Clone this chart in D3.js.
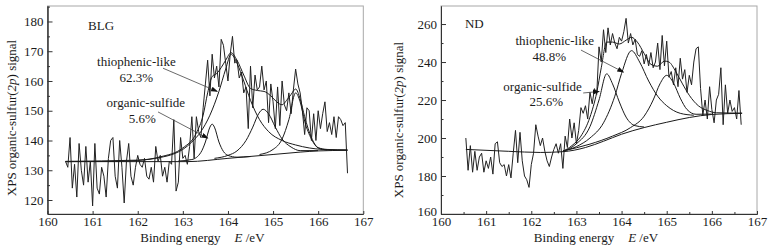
<!DOCTYPE html>
<html>
<head>
<meta charset="utf-8">
<script src="https://cdn.jsdelivr.net/npm/d3@7"></script>
<style>
  body { margin: 0; background: #fff; }
  text { font-family: "Liberation Serif", "Times New Roman", serif; fill: #1a1a1a; }
</style>
</head>
<body>
<svg id="chart" width="776" height="249"></svg>
<script>
// raw scans are on a regular energy grid (eV)
const blgStart = 160.40, ndStart = 160.55, scanStep = 0.05;

const blgRaw = [
  133,131,141,124,132,121,139,130,125,138,126,133,
  118,139,124,122,131,128,121,134,140,141,128,124,140,131,119,133,139,128,125,131,
  135,132,131,134,128,127,131,126,138,133,135,128,131,126,133,132,147,123,126,141,
  134,135,132,138,148,134,148,143,141,151,159,167,155,169,161,165,158,174,172,166,
  160,169,175,166,167,161,163,156,158,144,165,151,162,157,158,165,157,160,146,159,
  153,144,158,145,160,152,150,156,149,157,164,159,156,150,142,151,150,140,149,140,
  150,144,149,153,143,146,142,148,141,148,147,145,146,129
];

// fitted curves, [energy, signal]
const blgBaseline = [[160.4,132.9],[161.5,132.9],[163.1,132.9],[164.0,134.0],[165.0,135.3],[165.6,136.1],[166.0,136.5],[166.65,136.7]];
const blgThiophenic = [[160.4,132.9],[161.5,133.0],[162.0,133.3],[162.5,134.3],[162.8,135.5],[163.0,137.0],[163.2,139.5],[163.4,143.0],[163.6,148.5],[163.8,156.5],[163.95,164.0],[164.07,169.0],[164.2,166.0],[164.35,160.0],[164.5,153.5],[164.7,147.0],[164.9,143.0],[165.2,140.0],[165.5,138.5],[165.8,137.5],[166.1,137.0],[166.65,136.8]];
const blgSulfide = [[162.9,133.1],[163.2,133.6],[163.4,136.0],[163.5,139.5],[163.6,144.5],[163.65,145.5],[163.7,144.5],[163.8,139.5],[163.9,136.3],[164.0,135.0],[164.2,134.4],[164.5,134.6]];
const blgPeak3 = [[163.7,134.0],[164.0,135.0],[164.2,136.5],[164.4,140.0],[164.55,144.5],[164.68,149.0],[164.78,150.5],[164.9,149.0],[165.05,144.5],[165.2,140.5],[165.4,137.8],[165.6,136.6],[166.0,136.6]];
const blgPeak4 = [[164.7,135.3],[165.0,137.0],[165.2,140.5],[165.35,147.0],[165.5,156.0],[165.6,153.0],[165.7,146.5],[165.85,140.5],[166.0,137.5],[166.2,136.8]];
const blgEnvelope = [[160.4,133.0],[162.0,133.4],[162.5,134.5],[163.0,137.5],[163.3,142.5],[163.45,148.5],[163.55,156.0],[163.65,161.5],[163.75,162.5],[163.85,164.5],[163.95,167.0],[164.07,169.5],[164.2,167.0],[164.35,162.0],[164.5,157.5],[164.65,156.8],[164.8,156.5],[164.95,155.0],[165.08,153.0],[165.2,152.0],[165.3,153.5],[165.4,155.5],[165.5,157.3],[165.6,154.0],[165.7,148.0],[165.85,141.0],[166.0,137.6],[166.2,137.0],[166.65,136.8]];

const ndRaw = [
  200,183,196,182,193,183,190,192,182,
  188,184,190,181,197,198,187,185,186,180,186,179,192,204,187,203,188,180,178,174,
  186,192,207,201,196,200,193,188,185,190,194,197,192,197,184,201,195,210,200,208,
  197,204,216,213,217,210,224,218,226,223,248,240,257,245,258,249,255,250,247,253,
  251,256,263,250,255,249,252,244,243,246,239,244,238,245,237,240,250,236,254,238,
  251,232,235,228,237,227,242,231,236,224,233,228,240,247,248,226,212,220,210,227,
  215,208,220,223,237,207,228,213,220,214,216,210,225,207
];

const ndBaseline = [[160.55,194.0],[161.5,193.0],[162.2,192.4],[162.7,192.8],[163.2,195.0],[163.6,198.3],[164.0,202.0],[164.5,205.5],[165.0,208.3],[165.5,210.8],[166.0,212.4],[166.67,213.0]];
const ndSulfide = [[162.7,193.0],[163.0,197.0],[163.3,206.0],[163.5,220.0],[163.67,233.8],[163.8,228.5],[163.95,219.0],[164.1,211.0],[164.3,206.5],[164.5,205.8]];
const ndThiophenic = [[162.7,193.0],[163.0,195.5],[163.3,200.0],[163.6,208.0],[163.85,222.0],[164.0,234.0],[164.22,246.0],[164.4,240.0],[164.6,230.0],[164.8,222.0],[165.0,217.0],[165.3,213.0],[165.6,212.0]];
const ndPeak3 = [[162.7,193.2],[163.3,196.8],[163.8,201.0],[164.2,205.5],[164.5,211.5],[164.7,220.0],[164.85,228.5],[165.0,233.0],[165.15,229.0],[165.3,221.0],[165.45,215.0],[165.65,212.5],[166.0,212.6]];
const ndEnvelope = [[162.7,193.0],[162.9,196.0],[163.1,201.0],[163.3,211.0],[163.45,224.0],[163.55,237.0],[163.67,250.5],[163.8,250.5],[163.95,249.5],[164.1,251.5],[164.22,253.0],[164.35,250.5],[164.5,244.5],[164.65,238.8],[164.8,237.8],[164.95,240.5],[165.05,240.0],[165.2,235.0],[165.35,228.5],[165.5,222.5],[165.7,217.0],[165.9,214.5],[166.1,213.3],[166.67,213.1]];

const xTicks = [160, 161, 162, 163, 164, 165, 166, 167];
const blgYTicks = [120, 130, 140, 150, 160, 170, 180];
const ndYTicks = [160, 180, 200, 220, 240, 260];

function getConfig(id) {
  let top = 6, bottom = 214;
  if (id == 'blg') {
    return {id, left: 47.5, right: 363.3, top, bottom, yDomain: [115.3, 185.2], yTicks: blgYTicks, yMinorStep: 5, xMinor: false,
            yLabelX: 16, yLabelY: 118};
  }
  return {id, left: 441, right: 757, top, bottom, yDomain: [160, 269.5], yTicks: ndYTicks, yMinorStep: 10, xMinor: true,
          yLabelX: 403, yLabelY: 120};
}

function getScales(config) {
  let xScale = d3.scaleLinear().domain([160, 167]).range([config.left, config.right]);
  let yScale = d3.scaleLinear().domain(config.yDomain).range([config.bottom, config.top]);
  return {xScale, yScale};
}

function drawPanel(svg, config, scales, raw, rawStart, curves, notes, arrows) {
  let {xScale, yScale} = scales;
  let g = svg.append('g').attr('class', 'panel-' + config.id);

  // gray frame, the axes are drawn darker on top
  g.append('rect')
    .attr('x', config.left).attr('y', config.top)
    .attr('width', config.right - config.left).attr('height', config.bottom - config.top)
    .attr('fill', 'none').attr('stroke', '#a8a8a8').attr('stroke-width', 1);

  // minor ticks first
  let yMinor = d3.range(Math.ceil(config.yDomain[0] / config.yMinorStep) * config.yMinorStep, config.yDomain[1], config.yMinorStep)
    .filter(v => config.yTicks.indexOf(v) < 0);
  g.append('g').attr('transform', 'translate(' + config.left + ',0)')
    .call(d3.axisLeft(yScale).tickValues(yMinor).tickSizeInner(-2.5).tickSizeOuter(0).tickFormat(''));
  if (config.xMinor) {
    g.append('g').attr('transform', 'translate(0,' + config.bottom + ')')
      .call(d3.axisBottom(xScale).tickValues(d3.range(160.5, 167, 1)).tickSizeInner(-2).tickSizeOuter(0).tickFormat(''));
  }

  g.append('g').attr('transform', 'translate(0,' + config.bottom + ')')
    .call(d3.axisBottom(xScale).tickValues(xTicks).tickSizeInner(-3).tickSizeOuter(0).tickPadding(3).tickFormat(d3.format('d')));
  let yAxis = g.append('g').attr('transform', 'translate(' + config.left + ',0)')
    .call(d3.axisLeft(yScale).tickValues(config.yTicks).tickSizeInner(-5).tickSizeOuter(0).tickPadding(4).tickFormat(d3.format('d')));
  // bottom y label sits in the corner next to the x labels, lift it a little
  yAxis.selectAll('.tick text').filter(d => d == config.yDomain[0]).attr('dy', '0.1em');

  g.selectAll('.tick text').attr('font-size', 13).attr('font-family', '"Liberation Serif", serif').attr('fill', '#1a1a1a');
  g.selectAll('.domain, .tick line').attr('stroke', '#333').attr('stroke-width', 1);

  // raw signal
  let rawLine = d3.line()
    .x((d, i) => xScale(rawStart + i * scanStep))
    .y(d => yScale(d));
  g.append('path').datum(raw)
    .attr('d', rawLine)
    .attr('fill', 'none').attr('stroke', '#222').attr('stroke-width', 1).attr('stroke-linejoin', 'round');

  // fitted components, baseline and envelope
  let fitLine = d3.line()
    .x(d => xScale(d[0]))
    .y(d => yScale(d[1]))
    .curve(d3.curveMonotoneX);
  g.selectAll('path.fit')
    .data(curves)
    .enter()
    .append('path')
    .attr('class', 'fit')
    .attr('d', fitLine)
    .attr('fill', 'none').attr('stroke', '#1a1a1a').attr('stroke-width', 1);

  // annotations
  g.selectAll('text.note')
    .data(notes)
    .enter()
    .append('text')
    .attr('class', 'note')
    .attr('x', d => xScale(d.e))
    .attr('y', d => yScale(d.v))
    .attr('text-anchor', d => d.anchor)
    .attr('font-size', 13)
    .text(d => d.text);

  g.selectAll('line.arrow')
    .data(arrows)
    .enter()
    .append('line')
    .attr('class', 'arrow')
    .attr('x1', d => xScale(d[0][0])).attr('y1', d => yScale(d[0][1]))
    .attr('x2', d => xScale(d[1][0])).attr('y2', d => yScale(d[1][1]))
    .attr('stroke', '#444').attr('stroke-width', 0.8)
    .attr('marker-end', 'url(#head)');

  // axis titles
  let xTitle = g.append('text')
    .attr('x', (config.left + config.right) / 2 - 3)
    .attr('y', 241.5)
    .attr('text-anchor', 'middle')
    .attr('font-size', 13);
  xTitle.append('tspan').text('Binding energy');
  xTitle.append('tspan').attr('dx', 14).attr('font-style', 'italic').text('E');
  xTitle.append('tspan').text(' /eV');

  let yTitle = g.append('text')
    .attr('transform', 'translate(' + config.yLabelX + ',' + config.yLabelY + ') rotate(-90)')
    .attr('text-anchor', 'middle')
    .attr('font-size', 13);
  yTitle.append('tspan').text('XPS organic-sulfur(');
  yTitle.append('tspan').attr('font-style', 'italic').text('2p');
  yTitle.append('tspan').text(') signal');
}

let svg = d3.select('#chart');
svg.append('defs').append('marker')
  .attr('id', 'head')
  .attr('markerUnits', 'userSpaceOnUse')
  .attr('markerWidth', 7).attr('markerHeight', 5)
  .attr('refX', 6).attr('refY', 2.5)
  .attr('orient', 'auto')
  .append('path').attr('d', 'M0,0 L7,2.5 L0,5 Z').attr('fill', '#111');

let blgConfig = getConfig('blg');
drawPanel(svg, blgConfig, getScales(blgConfig), blgRaw, blgStart,
  [blgBaseline, blgThiophenic, blgSulfide, blgPeak3, blgPeak4, blgEnvelope],
  [
    {text: 'BLG', e: 160.90, v: 177.3, anchor: 'start'},
    {text: 'thiophenic-like', e: 161.97, v: 165.0, anchor: 'middle'},
    {text: '62.3%', e: 161.97, v: 159.8, anchor: 'middle'},
    {text: 'organic-sulfide', e: 162.18, v: 151.3, anchor: 'middle'},
    {text: '5.6%', e: 162.10, v: 145.9, anchor: 'middle'}
  ],
  [[[162.56, 164.3], [163.76, 156.5]], [[162.45, 149.6], [163.55, 140.8]]]);

let ndConfig = getConfig('nd');
drawPanel(svg, ndConfig, getScales(ndConfig), ndRaw, ndStart,
  [ndBaseline, ndSulfide, ndThiophenic, ndPeak3, ndEnvelope],
  [
    {text: 'ND', e: 160.53, v: 257.9, anchor: 'start'},
    {text: 'thiophenic-like', e: 162.52, v: 248.9, anchor: 'middle'},
    {text: '48.8%', e: 162.40, v: 240.5, anchor: 'middle'},
    {text: 'organic-sulfide', e: 162.25, v: 224.7, anchor: 'middle'},
    {text: '25.6%', e: 162.33, v: 216.8, anchor: 'middle'}
  ],
  [[[163.10, 246.3], [164.04, 234.7]], [[163.15, 223.7], [163.50, 224.5]]]);
</script>
</body>
</html>
